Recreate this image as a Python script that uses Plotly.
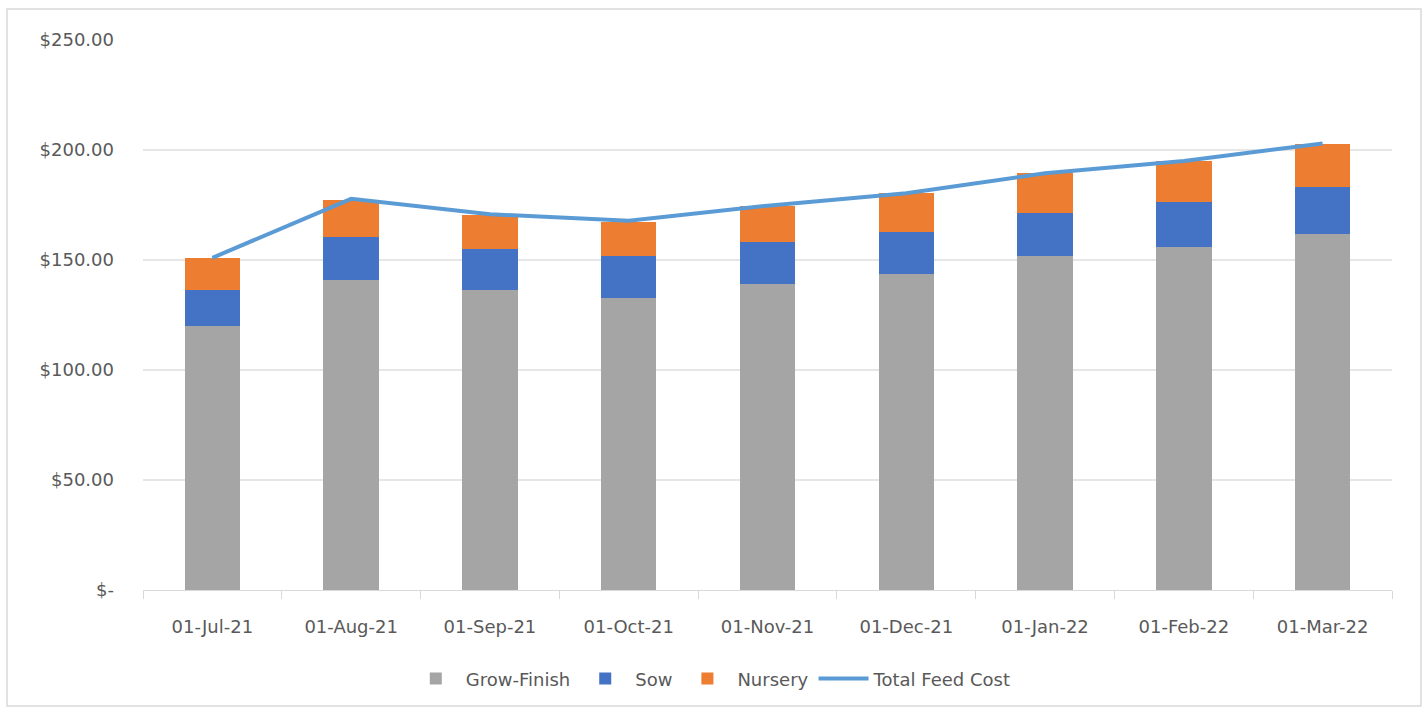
import plotly.graph_objects as go

months = ["01-Jul-21", "01-Aug-21", "01-Sep-21", "01-Oct-21", "01-Nov-21",
          "01-Dec-21", "01-Jan-22", "01-Feb-22", "01-Mar-22"]
grow_finish = [120.0, 140.9, 136.4, 132.9, 139.1, 143.6, 152.0, 155.8, 161.7]
sow = [16.4, 19.4, 18.5, 19.1, 19.2, 19.3, 19.5, 20.4, 21.6]
nursery = [14.5, 17.0, 15.6, 15.3, 16.2, 17.4, 17.9, 18.8, 19.3]
total_feed_cost = [151.0, 177.8, 170.8, 167.8, 174.7, 180.3, 189.4, 195.0, 203.0]

y_tick_vals = [0, 50, 100, 150, 200, 250]
y_tick_text = ["$-", "$50.00", "$100.00", "$150.00", "$200.00", "$250.00"]

FONT = "'DejaVu Sans', sans-serif"
TXT = "#595959"

fig = go.Figure()
fig.add_trace(go.Bar(x=months, y=grow_finish, name="Grow-Finish", marker_color="#a5a5a5",
                     marker_line_width=0, width=0.4))
fig.add_trace(go.Bar(x=months, y=sow, name="Sow", marker_color="#4472c4",
                     marker_line_width=0, width=0.4))
fig.add_trace(go.Bar(x=months, y=nursery, name="Nursery", marker_color="#ed7d31",
                     marker_line_width=0, width=0.4))
fig.add_trace(go.Scatter(x=months, y=total_feed_cost, name="Total Feed Cost", mode="lines",
                         line=dict(color="#5b9bd5", width=4)))

fig.update_layout(
    barmode="stack",
    width=1425, height=713,
    margin=dict(l=143, r=33, t=40, b=123),
    paper_bgcolor="white", plot_bgcolor="white",
    font=dict(family=FONT, size=17, color=TXT),
    showlegend=True,
    legend=dict(orientation="h", x=0.455, xanchor="center", y=-0.128, yanchor="top",
                font=dict(family=FONT, size=18, color=TXT), itemwidth=50,
                traceorder="normal"),
    shapes=[dict(type="rect", xref="paper", yref="paper",
                 x0=-0.1089, x1=1.0232, y0=-0.211, y1=1.0564,
                 line=dict(color="#d9d9d9", width=1.5), fillcolor="rgba(0,0,0,0)",
                 layer="below")],
)
fig.update_xaxes(type="category", showline=True, linecolor="#d9d9d9", linewidth=1,
                 ticks="outside", tickson="boundaries", ticklen=8, tickcolor="#d9d9d9",
                 showgrid=False, tickfont=dict(family=FONT, size=18, color=TXT),
                 ticklabelstandoff=20, range=[-0.5, 8.5])
fig.update_yaxes(range=[0, 250], tickvals=y_tick_vals, ticktext=y_tick_text,
                 showgrid=True, gridcolor="#e6e6e6", gridwidth=1.5, zeroline=False,
                 showline=False, ticks="", ticklen=0, ticklabelstandoff=28,
                 tickfont=dict(family=FONT, size=18, color=TXT))

fig.write_html("out.html")
